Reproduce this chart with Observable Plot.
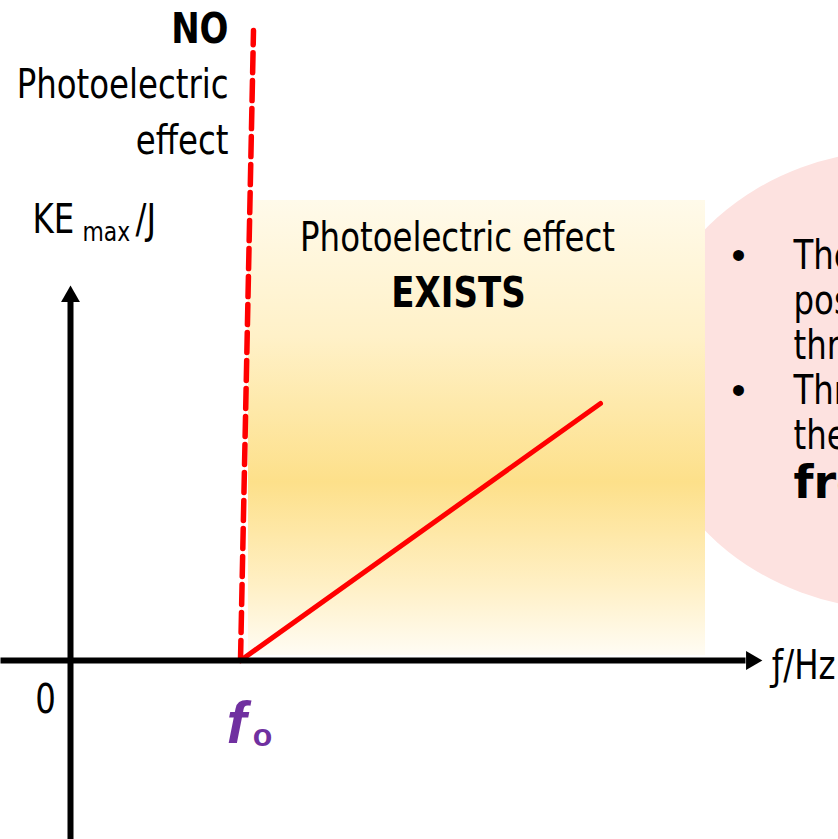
<!DOCTYPE html>
<html><head><meta charset="utf-8">
<script src="https://cdn.jsdelivr.net/npm/d3@7"></script>
<script src="https://cdn.jsdelivr.net/npm/@observablehq/plot@0.6"></script>
<style>html,body{margin:0;padding:0;background:#fff;overflow:hidden}</style>
</head><body><div id="chart"></div>
<script>
// ---- data (units: frequency along x, KE along y; origin at 0,0) ----
const keLine = [{f: 1.7, ke: 0}, {f: 5.3, ke: 2.57}];
const cutoffLine = [{f: 1.7, ke: 0}, {f: 1.83, ke: 6.3}];
const existsRegion = [{f1: 1.78, f2: 6.35, ke1: 0.05, ke2: 4.6}];
const noteBubble = [{f: 8.3, ke: 2.8, rf: 2.58, rke: 2.3}];
const axisLines = [{x1: -0.7, y1: 0, x2: 6.75, y2: 0}, {x1: 0, y1: -1.79, x2: 0, y2: 3.6}];
const arrowTips = [{x: 6.81, y: 0, angle: 90}, {x: 0, y: 3.64, angle: 0}];

const noBold = [{x: 1.58, y: 6.18, t: "NO"}];
const noLines = [{x: 1.58, y: 5.63, t: "Photoelectric"}, {x: 1.58, y: 5.07, t: "effect"}];
const existsLine = [{x: 3.87, y: 4.10, t: "Photoelectric effect"}];
const existsBold = [{x: 3.88, y: 3.54, t: "EXISTS"}];
const yTitleMain = [{x: -0.38, y: 4.28, t: "KE"}, {x: 0.65, y: 4.28, t: "/J"}];
const yTitleSub = [{x: 0.12, y: 4.20, t: "max"}];
const originLabel = [{x: -0.25, y: -0.52, t: "0"}];
const f0Main = [{x: 1.66, y: -0.82, t: "f"}];
const f0Sub = [{x: 1.92, y: -0.85, t: "o"}];
const xTitle = [{x: 7.65, y: -0.18, t: "ƒ/Hz"}];
const bullets = [{x: 6.68, y: 3.92, t: "•"}, {x: 6.68, y: 2.57, t: "•"}];
const noteLines = [
  {x: 7.23, y: 3.92, t: "There is a minimum"},
  {x: 7.23, y: 3.47, t: "possible frequency, the"},
  {x: 7.23, y: 3.02, t: "threshold frequency"},
  {x: 7.23, y: 2.57, t: "Threshold frequency is"},
  {x: 7.23, y: 2.12, t: "the minimum"}
];
const noteBold = [{x: 7.23, y: 1.63, t: "frequency"}];

const FONT = "'DejaVu Sans Condensed','Liberation Sans Narrow',sans-serif";
const PLAIN = "'Liberation Sans','DejaVu Sans',sans-serif";

const gradientDefs = () => {
  const defs = d3.create("svg:defs");
  const lg = defs.append("linearGradient").attr("id", "existsGrad")
    .attr("x1", 0).attr("y1", 0).attr("x2", 0).attr("y2", 1);
  [[0, "#fffaea"], [0.3, "#fff1c8"], [0.62, "#fde08a"], [0.85, "#fff0c6"], [1, "#fffcf4"]]
    .forEach(([o, c]) => lg.append("stop").attr("offset", o).attr("stop-color", c));
  return defs.node();
};

const bubbleMark = (index, {x, y}) => {
  const g = d3.create("svg:g");
  for (const b of noteBubble) {
    g.append("ellipse")
      .attr("cx", x(b.f)).attr("cy", y(b.ke))
      .attr("rx", x(b.f + b.rf) - x(b.f))
      .attr("ry", y(b.ke - b.rke) - y(b.ke))
      .attr("fill", "#fde2e0");
  }
  return g.node();
};

const txt = (data, opts) => Plot.text(data, {x: "x", y: "y", text: "t", lineAnchor: "bottom",
  fontFamily: FONT, fill: "black", fontSize: 40, ...opts});

const chart = Plot.plot({
  width: 838, height: 839,
  marginTop: 0, marginRight: 0, marginBottom: 0, marginLeft: 0,
  x: {domain: [-0.7, 7.68], axis: null},
  y: {domain: [-1.79, 6.6], axis: null},
  style: {background: "white", overflow: "hidden"},
  marks: [
    gradientDefs,
    bubbleMark,
    Plot.rect(existsRegion, {x1: "f1", x2: "f2", y1: "ke1", y2: "ke2", fill: "url(#existsGrad)"}),
    Plot.line(cutoffLine, {x: "f", y: "ke", stroke: "#ff0000", strokeWidth: 5.5, strokeDasharray: "20,8"}),
    Plot.line(keLine, {x: "f", y: "ke", stroke: "#ff0000", strokeWidth: 5}),
    Plot.link(axisLines, {x1: "x1", y1: "y1", x2: "x2", y2: "y2", stroke: "black", strokeWidth: 6}),
    Plot.dot(arrowTips, {x: "x", y: "y", symbol: "triangle", r: 7, fill: "black", stroke: null, rotate: "angle"}),
    txt(noBold, {textAnchor: "end", fontWeight: "bold", fontSize: 42}),
    txt(noLines, {textAnchor: "end"}),
    txt(existsLine, {textAnchor: "middle"}),
    txt(existsBold, {textAnchor: "middle", fontWeight: "bold", fontSize: 42}),
    txt(yTitleMain, {textAnchor: "start"}),
    txt(yTitleSub, {textAnchor: "start", fontSize: 27}),
    txt(originLabel, {textAnchor: "middle"}),
    txt(f0Main, {textAnchor: "middle", fontSize: 60, fontWeight: "bold", fontStyle: "italic", fill: "#7030a0", fontFamily: PLAIN}),
    txt(f0Sub, {textAnchor: "middle", fontSize: 32, fontWeight: "bold", fill: "#7030a0", fontFamily: PLAIN}),
    txt(xTitle, {textAnchor: "end"}),
    txt(bullets, {textAnchor: "middle", fontFamily: PLAIN}),
    txt(noteLines, {textAnchor: "start"}),
    txt(noteBold, {textAnchor: "start", fontSize: 46, fontWeight: "bold", fontFamily: "'DejaVu Sans',sans-serif"})
  ]
});
document.getElementById("chart").append(chart);

// condense the narrow-font texts horizontally to mimic the original condensed typeface
chart.querySelectorAll('g[font-family*="Condensed"] text').forEach(t => {
  const L = t.getComputedTextLength();
  if (L > 0) {
    t.setAttribute("textLength", L * 0.9);
    t.setAttribute("lengthAdjust", "spacingAndGlyphs");
  }
});
</script>
</body></html>
